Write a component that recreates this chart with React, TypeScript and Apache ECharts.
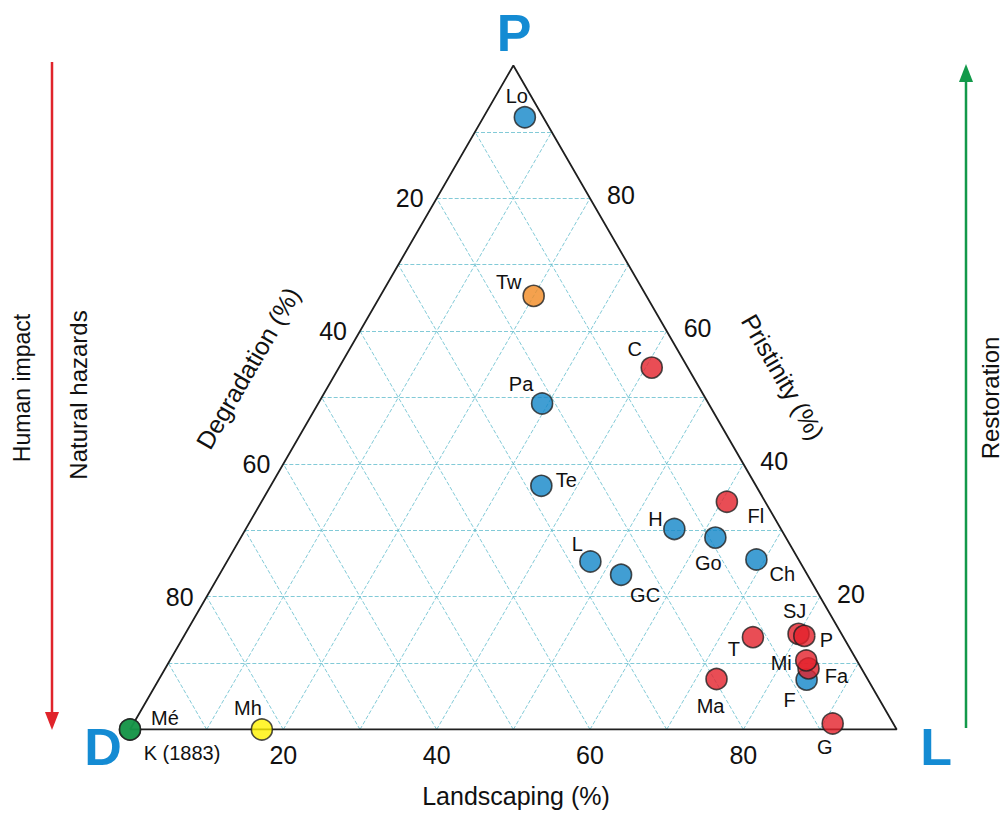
import React, { useEffect, useRef } from "react";
import * as echarts from "echarts";

// ---- data (percentages) ----
const names = ["Lo", "Tw", "C", "Pa", "Te", "Fl", "H", "Go", "Ch", "L", "GC", "SJ", "P", "T", "F", "Fa", "Mi", "Ma", "G", "K (1883)", "Mé", "Mh"];
const pristinity = [92.2, 65.3, 54.5, 49.1, 36.7, 34.3, 30.2, 28.9, 25.6, 25.3, 23.3, 14.4, 14.1, 13.9, 7.5, 9.2, 10.4, 7.6, 0.9, 0, 0, 0];
const landscaping = [5.4, 20.0, 40.8, 29.2, 35.3, 60.7, 55.9, 61.9, 68.9, 47.4, 52.4, 80.0, 80.9, 74.3, 84.5, 83.9, 83.0, 72.7, 91.2, 0, 0, 17.2];
const degradation = [2.4, 14.7, 4.7, 21.7, 28.0, 5.0, 13.9, 9.2, 5.5, 27.3, 24.3, 5.6, 5.0, 11.8, 8.0, 6.9, 6.6, 19.7, 7.9, 100, 100, 82.8];
const group = ["blue", "orange", "red", "blue", "blue", "red", "blue", "blue", "blue", "blue", "blue", "red", "red", "red", "blue", "red", "red", "red", "red", "green", "green", "yellow"];
const tickValues = [20, 40, 60, 80];
const gridValues = [10, 20, 30, 40, 50, 60, 70, 80, 90];

// ---- styles / layout ----
const COLORS: Record<string, string> = {
  blue: "#1286c8",
  red: "#e3202a",
  orange: "#f18a22",
  yellow: "#fff200",
  green: "#159447",
};
const LABEL_OFFSETS: Record<string, [number, number]> = {
  Lo: [-8, -21], Tw: [-25, -14], C: [-17, -19], Pa: [-21, -19], Te: [25, -6], Fl: [29, 14],
  H: [-19, -10], Go: [-7, 25], Ch: [26, 14], L: [-13, -18], GC: [24, 20], SJ: [-4, -23],
  P: [22, 4], T: [-19, 12], Mi: [-25, 3], Fa: [28, 8], F: [-17, 20], Ma: [-6, 27],
  G: [-8, 23], "K (1883)": [52, 23], "Mé": [35, -12], Mh: [-14, -22],
};
const FONT = "'Liberation Sans', Arial, Helvetica, sans-serif";
const TEXT = "#111111";
const H = Math.sqrt(3) / 2;

// ternary -> cartesian (D at origin, L at (100,0), P at (50, 86.6))
const toXY = (p: number, l: number): [number, number] => [l + p / 2, p * H];

const txt = (text: string, x: number, y: number, font: string, fill: string, rotation = 0) => ({
  type: "text",
  x,
  y,
  rotation,
  style: { text, fill, font, align: "center", verticalAlign: "middle", textAlign: "center", textVerticalAlign: "middle" },
});

const plainLabel = { color: TEXT, fontFamily: FONT, textBorderWidth: 0, textBorderColor: "transparent", opacity: 1 };

export default function App() {
  const ref = useRef<HTMLDivElement>(null);
  useEffect(() => {
    if (!ref.current) return;
    const chart = echarts.init(ref.current, undefined, { renderer: "svg" });

    const gridLines: any[] = [];
    gridValues.forEach((k) => {
      gridLines.push({ coords: [toXY(k, 0), toXY(k, 100 - k)] }); // constant pristinity
      gridLines.push({ coords: [toXY(0, k), toXY(100 - k, k)] }); // constant landscaping
      gridLines.push({ coords: [toXY(0, 100 - k), toXY(100 - k, 0)] }); // constant degradation
    });

    const points = names.map((n, i) => ({
      name: n,
      value: [...toXY(pristinity[i], landscaping[i]), degradation[i]],
      itemStyle: { color: COLORS[group[i]] },
      label: { offset: LABEL_OFFSETS[n] || [0, -20] },
    }));

    const BLUE = "#148bd3";
    const option: any = {
      animation: false,
      grid: { left: 130, top: 65.5, width: 766.7, height: 664 },
      xAxis: { type: "value", min: 0, max: 100, show: false },
      yAxis: { type: "value", min: 0, max: 100 * H, show: false },
      series: [
        {
          type: "lines",
          coordinateSystem: "cartesian2d",
          silent: true,
          z: 1,
          lineStyle: { color: "#62bccd", width: 0.8, type: [4, 2], opacity: 1 },
          data: gridLines,
        },
        {
          type: "line",
          silent: true,
          z: 2,
          symbol: "none",
          lineStyle: { color: "#1f1f1f", width: 1.8 },
          data: [toXY(0, 0), toXY(0, 100), toXY(100, 0), toXY(0, 0)],
        },
        {
          type: "scatter",
          z: 5,
          symbol: "circle",
          symbolSize: 21,
          itemStyle: { borderColor: "#1f1f1f", borderWidth: 1.6 },
          label: {
            show: true,
            position: "inside",
            formatter: "{b}",
            fontSize: 20,
            align: "center",
            verticalAlign: "middle",
            ...plainLabel,
          },
          data: points,
        },
        // Landscaping ticks (bottom)
        {
          type: "scatter",
          silent: true,
          symbolSize: 1,
          itemStyle: { color: "transparent" },
          label: { show: true, position: "inside", formatter: "{b}", offset: [0, 25], align: "center", verticalAlign: "middle", fontSize: 25, ...plainLabel },
          data: tickValues.map((k) => ({ name: String(k), value: toXY(0, k) })),
        },
        // Degradation ticks (left edge)
        {
          type: "scatter",
          silent: true,
          symbolSize: 1,
          itemStyle: { color: "transparent" },
          label: { show: true, position: "inside", formatter: "{b}", offset: [-13, 0], align: "right", verticalAlign: "middle", fontSize: 25, ...plainLabel },
          data: tickValues.map((k) => ({ name: String(k), value: toXY(100 - k, 0) })),
        },
        // Pristinity ticks (right edge)
        {
          type: "scatter",
          silent: true,
          symbolSize: 1,
          itemStyle: { color: "transparent" },
          label: { show: true, position: "inside", formatter: "{b}", offset: [17, -3], align: "left", verticalAlign: "middle", fontSize: 25, ...plainLabel },
          data: tickValues.map((k) => ({ name: String(k), value: toXY(k, 100 - k) })),
        },
      ],
      graphic: [
        txt("P", 514, 33, `bold 52px ${FONT}`, BLUE),
        txt("D", 103, 747, `bold 52px ${FONT}`, BLUE),
        txt("L", 936, 747, `bold 52px ${FONT}`, BLUE),
        txt("Landscaping (%)", 516, 796, `25px ${FONT}`, TEXT),
        txt("Degradation (%)", 248, 368, `25px ${FONT}`, TEXT, Math.PI / 3),
        txt("Pristinity (%)", 783, 377, `25px ${FONT}`, TEXT, -Math.PI / 3),
        txt("Human impact", 22, 388, `23px ${FONT}`, TEXT, Math.PI / 2),
        txt("Natural hazards", 78, 395, `24px ${FONT}`, TEXT, Math.PI / 2),
        txt("Restoration", 990, 398, `24px ${FONT}`, TEXT, Math.PI / 2),
        { type: "line", shape: { x1: 52, y1: 62, x2: 52, y2: 714 }, style: { stroke: "#e0242b", lineWidth: 2.5 } },
        { type: "polygon", shape: { points: [[45, 712], [59, 712], [52, 730]] }, style: { fill: "#e0242b" } },
        { type: "line", shape: { x1: 966, y1: 728, x2: 966, y2: 80 }, style: { stroke: "#12994a", lineWidth: 2.5 } },
        { type: "polygon", shape: { points: [[959, 82], [973, 82], [966, 64]] }, style: { fill: "#12994a" } },
      ],
    };
    chart.setOption(option);
    return () => chart.dispose();
  }, []);
  return (
    <div
      ref={ref}
      style={{ position: "fixed", left: 0, top: 0, width: 1008, height: 814, background: "#ffffff" }}
    />
  );
}
